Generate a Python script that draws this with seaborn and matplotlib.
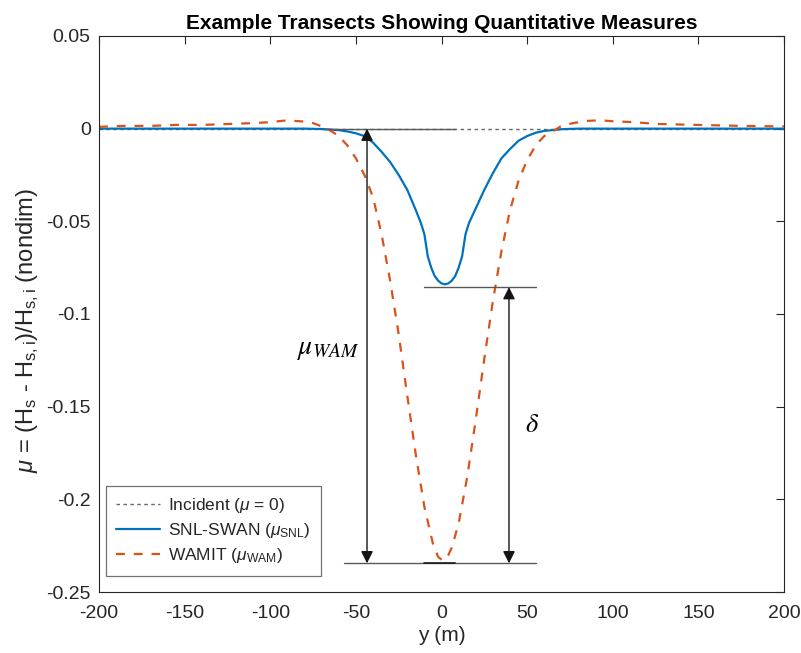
import matplotlib
matplotlib.use("Agg")
import matplotlib.pyplot as plt
import seaborn as sns

# transect positions (m) and normalised wave height change
y_snl = [-200, -150, -100, -80, -70, -60, -55, -50, -45, -40, -35, -30, -25, -20, -15, -12,
         -10, -8, -6, -4, -2, 0, 2, 4, 6, 8, 10, 12, 14, 16, 20, 25, 30, 35, 40, 45,
         50, 55, 60, 70, 80, 100, 150, 200]
mu_snl = [0, 0, 0, 0, -0.0002, -0.0008, -0.0015, -0.0025, -0.004, -0.0075, -0.0125, -0.018,
          -0.025, -0.033, -0.044, -0.051, -0.057, -0.069, -0.075, -0.0795, -0.082, -0.0835,
          -0.084, -0.0835, -0.082, -0.0795, -0.075, -0.069, -0.057, -0.051, -0.043, -0.033,
          -0.024, -0.016, -0.011, -0.0065, -0.004, -0.0022, -0.0012, -0.0003, 0, 0, 0, 0]

y_wam = [-200, -185, -170, -155, -140, -125, -110, -100, -90, -80, -75, -70, -65, -60, -55,
         -50, -45, -40, -35, -30, -25, -20, -15, -10, -5, -2, 0, 1, 2, 4, 6, 10, 15, 20, 25,
         30, 35, 40, 45, 50, 55, 60, 65, 70, 77, 85, 93, 100, 112, 127, 150, 175, 200]
mu_wam = [0.001, 0.0015, 0.0015, 0.002, 0.002, 0.0025, 0.003, 0.0035, 0.0045, 0.0038, 0.003,
          0.0012, -0.001, -0.004, -0.009, -0.016, -0.025, -0.037, -0.057, -0.082, -0.111,
          -0.144, -0.176, -0.204, -0.224, -0.231, -0.2325, -0.233, -0.2325, -0.230, -0.226,
          -0.213, -0.188, -0.157, -0.124, -0.093, -0.066, -0.044, -0.028, -0.017, -0.009,
          -0.004, -0.0015, 0.0015, 0.003, 0.0042, 0.0045, 0.004, 0.0035, 0.0025, 0.002,
          0.0015, 0.0012]

y_inc = [-200, 200]
mu_inc = [0, 0]

# measure guide lines and arrows
top_x, top_y = [-68, 8], 0.0
snl_min_x, snl_min_y = [-10, 55], -0.0855
wam_min_x, wam_min_y = [-57, 55], -0.2345
wam_arrow_x = -43.5
delta_arrow_x = 39.4

xticks = [-200, -150, -100, -50, 0, 50, 100, 150, 200]
yticks = [-0.25, -0.2, -0.15, -0.1, -0.05, 0, 0.05]
ytick_labels = ['-0.25', '-0.2', '-0.15', '-0.1', '-0.05', '0', '0.05']

sns.set_style("white")
plt.rcParams['font.family'] = ['Liberation Sans', 'DejaVu Sans']
plt.rcParams['mathtext.fontset'] = 'custom'
plt.rcParams['mathtext.rm'] = 'Liberation Sans'
plt.rcParams['mathtext.it'] = 'Liberation Sans:italic'
plt.rcParams['mathtext.bf'] = 'Liberation Sans:bold'

txt = '#262626'
fig = plt.figure(figsize=(8.01, 6.53), dpi=100)
ax = fig.add_axes([0.1236, 0.0934, 0.8552, 0.8515])

sns.lineplot(x=y_inc, y=mu_inc, ax=ax, color='0.4', lw=1, linestyle=(0, (2.5, 2.5)),
             label=r'Incident ($\mu$ = 0)')
sns.lineplot(x=y_snl, y=mu_snl, ax=ax, color='#0072BD', lw=1.6,
             label=r'SNL-SWAN ($\mu_{\mathrm{SNL}}$)')
sns.lineplot(x=y_wam, y=mu_wam, ax=ax, color='#D95319', lw=1.6, linestyle=(0, (4, 4)),
             label=r'WAMIT ($\mu_{\mathrm{WAM}}$)')

# guide lines
ax.plot(top_x, [top_y, top_y], color='0.35', lw=1)
ax.plot(snl_min_x, [snl_min_y, snl_min_y], color='0.35', lw=1)
ax.plot(wam_min_x, [wam_min_y, wam_min_y], color='0.35', lw=1)
ax.plot([-10, 8], [wam_min_y, wam_min_y], color='0.1', lw=1.2)

arrow = dict(arrowstyle='<|-|>', color='0.08', lw=1, mutation_scale=18,
             shrinkA=0, shrinkB=0)
ax.annotate('', xy=(wam_arrow_x, top_y), xytext=(wam_arrow_x, wam_min_y), arrowprops=arrow)
ax.annotate('', xy=(delta_arrow_x, snl_min_y), xytext=(delta_arrow_x, wam_min_y),
            arrowprops=arrow)
ax.text(-66, -0.119, r'$\mu_{WAM}$', fontsize=20, math_fontfamily='stix',
        ha='center', va='center', color='k')
ax.text(53, -0.16, r'$\delta$', fontsize=19, math_fontfamily='stix',
        ha='center', va='center', color='k')

ax.set_xlim(-200, 200)
ax.set_ylim(-0.25, 0.05)
ax.set_xticks(xticks)
ax.set_xticklabels([str(t) for t in xticks])
ax.set_yticks(yticks)
ax.set_yticklabels(ytick_labels)
ax.tick_params(direction='in', top=True, right=True, length=6, width=0.8,
               labelsize=14, colors=txt)
ax.tick_params(axis='x', pad=9)
ax.tick_params(axis='y', pad=6)
for s in ax.spines.values():
    s.set_color(txt)
    s.set_linewidth(0.8)

ax.set_xlabel('y (m)', fontsize=15, color=txt, labelpad=3)
ax.set_ylabel(r'$\mu$ = (H$_\mathrm{s}$ - H$_\mathrm{s,i}$)/H$_\mathrm{s,i}$ (nondim)',
              fontsize=17, color=txt)
ax.yaxis.set_label_coords(-0.084, 0.47)
ax.set_title('Example Transects Showing Quantitative Measures', fontsize=15,
             fontweight='bold', color='k', pad=5)

leg = ax.legend(loc='lower left', bbox_to_anchor=(0.010, 0.029), fontsize=12.5, frameon=True,
                fancybox=False, framealpha=1, edgecolor='0.45', handlelength=2.5,
                borderpad=0.6, labelspacing=0.35, handletextpad=0.5, borderaxespad=0)
leg.get_frame().set_linewidth(0.9)
for t in leg.get_texts():
    t.set_color(txt)

fig.savefig('out.png', dpi=100, facecolor='white')
